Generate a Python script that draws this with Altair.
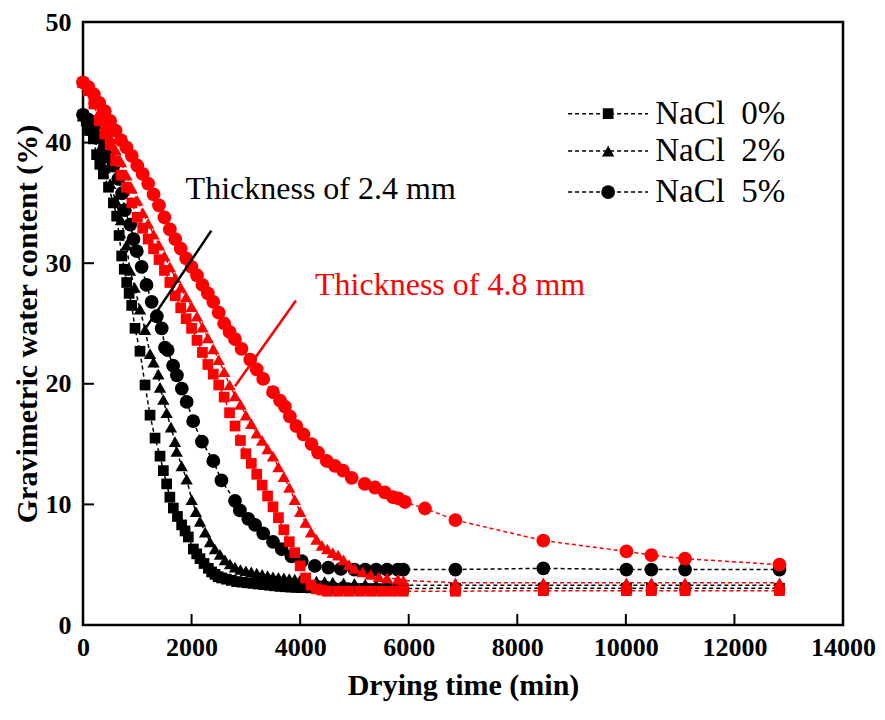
import altair as alt
import pandas as pd

FONT = "Liberation Serif"

# ---------------- data ----------------
# 2.4 mm, NaCl 0 %
b0_t = [0, 60, 120, 190, 250, 310, 375, 470, 560, 620, 665, 713, 760, 805, 850, 897, 958, 1050, 1143,
        1235, 1327, 1419, 1480, 1541, 1600, 1664, 1740, 1817, 1880, 1940, 2033, 2095, 2155, 2230, 2309,
        2370, 2432, 2490, 2555, 2640, 2733, 2830, 2930, 3030, 3130, 3230, 3330, 3430, 3530, 3630, 3730,
        3830, 3930, 4020, 4200, 4400, 4600, 4800, 5000, 5200, 5400, 5600, 5800, 5900,
        6860, 8480, 10010, 10470, 11090, 12830]
b0_w = [42.3, 41.8, 41.0, 40.4, 39.0, 38.2, 37.4, 36.3, 35.0, 33.9, 32.3, 30.6, 29.5, 28.4, 27.5, 26.5, 24.6,
        22.7, 19.9, 17.4, 15.5, 14.0, 12.8, 11.7, 10.6, 9.7, 9.0, 8.3, 7.8, 7.3, 6.3, 5.9, 5.5, 5.1, 4.7,
        4.4, 4.2, 4.0, 3.9, 3.8, 3.7, 3.6, 3.55, 3.5, 3.45, 3.4, 3.35, 3.3, 3.25, 3.2, 3.17, 3.14, 3.12,
        3.1, 3.08, 3.06, 3.05, 3.04, 3.03, 3.02, 3.02, 3.02, 3.02, 3.02,
        3.05, 3.05, 3.05, 3.05, 3.05, 3.05]

# 2.4 mm, NaCl 2 %
b2_t = [0, 100, 200, 300, 400, 500, 600, 700, 800, 866, 950, 1050, 1143, 1235, 1300, 1388, 1419, 1480,
        1541, 1620, 1695, 1726, 1817, 1909, 2002, 2080, 2156, 2250, 2340, 2430, 2524, 2615, 2708, 2800,
        2900, 3000, 3100, 3200, 3300, 3400, 3500, 3600, 3700, 3800, 3900, 4000, 4150, 4300, 4450, 4600,
        4800, 5000, 5200, 5400, 5600, 5800, 5900,
        6860, 8480, 10010, 10470, 11090, 12830]
b2_w = [42.2, 41.4, 40.3, 39.2, 37.9, 36.6, 35.2, 33.6, 31.5, 29.4, 28.0, 26.2, 24.5, 22.5, 21.8, 20.8,
        19.7, 18.7, 17.6, 16.4, 15.2, 14.4, 13.2, 12.1, 10.4, 9.4, 8.6, 7.7, 6.9, 6.3, 5.85, 5.4, 5.06,
        4.8, 4.6, 4.5, 4.4, 4.3, 4.2, 4.1, 4.0, 3.95, 3.9, 3.85, 3.8, 3.75, 3.7, 3.65, 3.6, 3.55,
        3.5, 3.45, 3.4, 3.35, 3.3, 3.3, 3.3,
        3.3, 3.3, 3.3, 3.3, 3.3, 3.3]

# 2.4 mm, NaCl 5 %
b5_t = [0, 100, 200, 300, 400, 470, 560, 650, 720, 770, 870, 930, 990, 1080, 1170, 1265, 1360, 1450,
        1510, 1560, 1660, 1730, 1820, 1910, 2030, 2190, 2400, 2550, 2800, 2890, 3045, 3170, 3320, 3500,
        3660, 3840, 4030, 4270, 4520, 4750, 5000, 5200, 5400, 5600, 5800, 5900,
        6860, 8480, 10010, 10470, 11090, 12830]
b5_w = [42.3, 41.9, 41.3, 40.5, 39.6, 38.8, 38.1, 37.0, 35.8, 34.4, 33.2, 32.0, 31.0, 29.7, 28.2, 26.8,
        25.6, 24.6, 23.0, 22.8, 21.5, 20.7, 19.6, 18.5, 16.9, 15.2, 13.6, 12.0, 10.3, 9.5, 8.8, 8.3, 7.6,
        6.9, 6.3, 5.7, 5.3, 4.9, 4.76, 4.65, 4.6, 4.6, 4.6, 4.6, 4.6, 4.6,
        4.6, 4.7, 4.6, 4.6, 4.6, 4.6]

# 4.8 mm, NaCl 0 %
r0_t = [0, 100, 200, 300, 400, 500, 600, 700, 800, 900, 1000, 1100, 1200, 1300, 1400, 1500, 1600, 1700,
        1800, 1900, 2000, 2100, 2200, 2300, 2400, 2500, 2600, 2700, 2800, 2900, 3000, 3100, 3200, 3300,
        3400, 3500, 3600, 3700, 3800, 3900, 4000, 4100, 4200, 4300, 4400, 4500, 4700, 4900, 5100, 5300,
        5500, 5700, 5900,
        6860, 8480, 10010, 10470, 11090, 12830]
r0_w = [45.0, 44.3, 43.2, 41.8, 40.7, 39.8, 38.5, 37.3, 36.3, 35.0, 33.8, 32.9, 32.0, 31.2, 30.3, 29.4,
        28.4, 27.3, 26.3, 25.4, 24.6, 23.6, 22.6, 21.6, 20.8, 19.9, 18.9, 17.6, 16.5, 15.3, 14.2, 13.4,
        12.5, 11.6, 10.7, 9.8, 8.9, 7.9, 6.9, 6.0, 4.9, 3.9, 3.3, 3.0, 2.9, 2.8, 2.8, 2.8, 2.8, 2.8,
        2.8, 2.8, 2.8,
        2.8, 2.85, 2.85, 2.85, 2.85, 2.85]

# 4.8 mm, NaCl 2 %
r2_t = [0, 100, 200, 300, 400, 500, 600, 700, 800, 900, 1000, 1100, 1200, 1300, 1400, 1500, 1600, 1700,
        1800, 1900, 2000, 2100, 2200, 2300, 2400, 2500, 2600, 2700, 2800, 2900, 3000, 3100, 3200, 3300,
        3400, 3500, 3600, 3700, 3800, 3900, 4000, 4100, 4200, 4300, 4400, 4500, 4600, 4700, 4800, 4900,
        5000, 5150, 5300, 5450, 5600, 5800, 5900,
        6860, 8480, 10010, 10470, 11090, 12830]
r2_w = [45.0, 44.5, 43.6, 42.5, 41.4, 40.4, 39.4, 38.4, 37.3, 36.2, 35.2, 34.2, 33.3, 32.4, 31.5, 30.6,
        29.7, 28.8, 28.0, 27.2, 26.4, 25.6, 24.7, 23.8, 22.9, 22.0, 21.0, 19.9, 19.0, 18.3, 17.4, 16.7,
        15.9, 15.3, 14.6, 14.0, 13.1, 12.3, 11.4, 10.4, 9.4, 8.5, 7.7, 7.1, 6.6, 6.3, 6.0, 5.8, 5.4, 5.0,
        4.7, 4.4, 4.2, 4.0, 3.9, 3.8, 3.7,
        3.5, 3.5, 3.5, 3.5, 3.5, 3.5]

# 4.8 mm, NaCl 5 %
r5_t = [0, 100, 200, 300, 400, 500, 600, 700, 800, 900, 1000, 1100, 1200, 1300, 1400, 1500, 1600, 1700,
        1800, 1900, 2000, 2100, 2200, 2300, 2400, 2500, 2600, 2700, 2800, 2920, 3080, 3200, 3320, 3500,
        3630, 3720, 3810, 3930, 4060, 4210, 4330, 4490, 4640, 4790, 4950, 5190, 5380, 5560, 5710, 5810,
        5930, 6300, 6860, 8480, 10010, 10470, 11090, 12830]
r5_w = [45.0, 44.6, 44.0, 43.3, 42.6, 41.8, 41.0, 40.2, 39.6, 38.9, 38.1, 37.4, 36.6, 35.7, 34.8, 33.8,
        32.8, 32.0, 31.2, 30.4, 29.7, 29.0, 28.2, 27.5, 26.8, 25.9, 25.0, 24.3, 23.7, 22.9, 22.0, 21.2,
        20.4, 19.3, 18.6, 18.1, 17.3, 16.5, 15.8, 15.0, 14.3, 13.6, 13.2, 12.8, 12.2, 11.7, 11.4, 11.0,
        10.6, 10.5, 10.2, 9.66, 8.7, 7.0, 6.1, 5.8, 5.5, 5.0]

THICK = ["2.4 mm", "4.8 mm"]
NACL = ["NaCl\u00a0\u00a00%", "NaCl\u00a0\u00a02%", "NaCl\u00a0\u00a05%"]

X_TICKS = [0, 2000, 4000, 6000, 8000, 10000, 12000, 14000]
Y_TICKS = [0, 10, 20, 30, 40, 50]
X_INNER = [2000, 4000, 6000, 8000, 10000, 12000]
Y_INNER = [10, 20, 30, 40]

# annotation pointers (data units)
ann_x = [2364, 3923]
ann_y = [32.7, 26.9]
ann_x2 = [1167, 2800]
ann_y2 = [24.7, 19.8]
ann_tx = [1890, 4275]
ann_ty = [35.3, 27.35]
ann_text = ["Thickness of 2.4 mm", "Thickness of 4.8 mm"]

# legend anchors (data units)
leg_y = [42.4, 39.3, 35.9]
leg_x1, leg_x2, leg_xm, leg_xt = 8936, 10409, 9674, 10540

# ---------------- build table ----------------
rows = []
idx = 0
for th, na, ts, ws in [
    (THICK[0], NACL[0], b0_t, b0_w), (THICK[0], NACL[1], b2_t, b2_w), (THICK[0], NACL[2], b5_t, b5_w),
    (THICK[1], NACL[0], r0_t, r0_w), (THICK[1], NACL[1], r2_t, r2_w), (THICK[1], NACL[2], r5_t, r5_w),
]:
    for t, w in zip(ts, ws):
        rows.append({"time": t, "wc": w, "thick": th, "nacl": na, "series": th + na, "idx": idx})
        idx += 1
df = pd.DataFrame(rows)

xscale = alt.Scale(domain=[0, 14000], nice=False)
yscale = alt.Scale(domain=[0, 50], nice=False)
cscale = alt.Scale(domain=THICK, range=["#000000", "#ff0000"])
sscale = alt.Scale(domain=NACL, range=["square", "triangle-up", "circle"])
zscale = alt.Scale(domain=NACL, range=[115, 190, 180])

XAX = alt.Axis(values=X_TICKS, title="Drying time (min)", format="d", labelOverlap=False, labelFlush=False)
YAX = alt.Axis(values=Y_TICKS, title="Gravimetric water content (%)", format="d", labelOverlap=False, labelFlush=False)


def X(field="time"):
    return alt.X(field + ":Q", scale=xscale, axis=XAX, title="Drying time (min)")


def Y(field="wc"):
    return alt.Y(field + ":Q", scale=yscale, axis=YAX, title="Gravimetric water content (%)")


color = alt.Color("thick:N", scale=cscale, legend=None)

base = alt.Chart(df)
lines = base.mark_line(strokeDash=[4, 3], strokeWidth=1.5).encode(
    x=X(), y=Y(), color=color, detail="series:N", order="idx:Q",
)
points = base.mark_point(filled=True, opacity=1, strokeWidth=0).encode(
    x=X(), y=Y(), color=color,
    shape=alt.Shape("nacl:N", scale=sscale, legend=None),
    size=alt.Size("nacl:N", scale=zscale, legend=None),
    order="idx:Q",
)

PLOT_H = 603

# inward ticks
xt = alt.Chart(pd.DataFrame({"time": X_INNER})).mark_rule(color="black", strokeWidth=2).encode(
    x=X(), y=alt.value(PLOT_H), y2=alt.value(PLOT_H - 11))
yt = alt.Chart(pd.DataFrame({"wc": Y_INNER})).mark_rule(color="black", strokeWidth=2).encode(
    y=Y(), x=alt.value(0), x2=alt.value(11))

# annotations
ann_df = pd.DataFrame({"time": ann_x, "wc": ann_y, "time2": ann_x2, "wc2": ann_y2,
                       "text": ann_text, "thick": THICK})
ann_tdf = pd.DataFrame({"time": ann_tx, "wc": ann_ty, "text": ann_text, "thick": THICK})
ann_lines = alt.Chart(ann_df).mark_rule(strokeWidth=2.5).encode(
    x=X(), y=Y(), x2="time2:Q", y2="wc2:Q", color=color)
ann_text_l = alt.Chart(ann_tdf).mark_text(font=FONT, fontSize=32, align="left", baseline="alphabetic").encode(
    x=X(), y=Y(), text="text:N", color=color)

# legend
leg_df = pd.DataFrame({"nacl": NACL, "wc": leg_y, "time": [leg_x1] * 3, "time2": [leg_x2] * 3})
leg_pdf = pd.DataFrame({"nacl": NACL, "wc": leg_y, "time": [leg_xm] * 3})
leg_tdf = pd.DataFrame({"nacl": NACL, "wc": leg_y, "time": [leg_xt] * 3})
leg_rule = alt.Chart(leg_df).mark_rule(color="black", strokeDash=[4, 3], strokeWidth=1.5).encode(
    x=X(), x2="time2:Q", y=Y())
leg_pts = alt.Chart(leg_pdf).mark_point(filled=True, opacity=1, color="black", strokeWidth=0).encode(
    x=X(), y=Y(),
    shape=alt.Shape("nacl:N", scale=sscale, legend=None),
    size=alt.Size("nacl:N", scale=zscale, legend=None))
leg_txt = alt.Chart(leg_tdf).mark_text(font=FONT, fontSize=33, align="left", baseline="middle", color="black").encode(
    x=X(), y=Y(), text="nacl:N")

chart = alt.layer(lines, points, xt, yt, ann_lines, ann_text_l, leg_rule, leg_pts, leg_txt).properties(
    width=760, height=PLOT_H,
    autosize=alt.AutoSizeParams(type="none"),
    padding={"left": 75, "top": 14, "right": 34, "bottom": 80},
).configure_view(
    stroke="black", strokeWidth=2.5
).configure_axis(
    labelFont=FONT, labelFontSize=26, labelFontWeight="bold", labelColor="black",
    titleFont=FONT, titleFontSize=30, titleFontWeight="bold", titleColor="black",
    ticks=False, domain=False, grid=False,
).configure_axisX(
    labelPadding=9, titlePadding=10,
).configure_axisY(
    labelPadding=12, titlePadding=3,
)

chart.save("out.html", embed_options={"renderer": "svg", "actions": False})
